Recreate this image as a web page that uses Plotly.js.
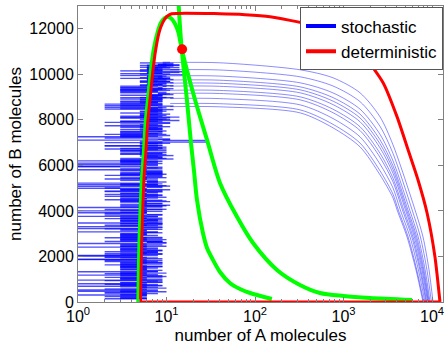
<!DOCTYPE html>
<html><head><meta charset="utf-8">
<script src="https://cdn.plot.ly/plotly-3.0.1.min.js"></script>
<style>html,body{margin:0;padding:0;background:#fff}#chart{width:445px;height:345px}</style>
</head><body><div id="chart"></div>
<script>
// ---- axis ticks ----
const xTickVals = [1, 10, 100, 1000, 10000];
const xTickText = ['10<sup>0</sup>', '10<sup>1</sup>', '10<sup>2</sup>', '10<sup>3</sup>', '10<sup>4</sup>'];
const yTickVals = [0, 2000, 4000, 6000, 8000, 10000, 12000];
const yTickText = ['0', '2000', '4000', '6000', '8000', '10000', '12000'];

// ---- deterministic trajectory (A, B) ----
const detA = [12300, 10800, 8790, 6950, 5360, 4030, 2800, 1660, 845, 418, 148, 77, 40.2, 11.43, 10.05, 9.06, 8.23, 7.55, 7.04, 6.59, 6.14, 5.82, 5.57, 5.24, 5.08];
const detB = [0, 1980, 3910, 5360, 6690, 8130, 9630, 10860, 11825, 12180, 12530, 12620, 12660, 12660, 12530, 12270, 11825, 11080, 10200, 9100, 7910, 6460, 5450, 2640, 0];
const detBaseA = [5.08, 12300];
const detBaseB = [0, 0];
const steadyA = [15.0];
const steadyB = [11100];

// ---- nullclines ----
const nullHumpA = [4.80, 4.95, 5.29, 5.53, 5.82, 6.26, 6.68, 7.17, 7.91, 8.66, 9.49, 10.26, 11.24, 12.48, 13.67, 14.85, 21.0, 28.7, 40.2, 62.6, 95, 177, 322, 542, 1000, 1990, 5940];
const nullHumpB = [0, 2640, 5450, 6460, 7910, 9100, 10200, 11080, 11825, 12270, 12460, 12530, 12460, 12220, 11825, 11110, 8880, 7120, 5230, 3740, 2590, 1410, 750, 396, 264, 176, 88];
const nullSteepA = [13.5, 14.03, 14.85, 17.0, 18.9, 20.5, 22.1, 25.8, 28.7, 33.5, 40.2, 52, 67.7, 88, 155];
const nullSteepB = [13500, 12400, 11110, 8880, 6990, 5715, 4480, 3030, 2374, 1850, 1319, 835, 571, 396, 130];

// ---- stochastic runs: approach phase ----
const run1A = [10260, 9250, 7910, 6427, 3623, 2584, 1536, 761, 322, 40, 11];
const run1B = [0, 1407, 2857, 4044, 6902, 8133, 9188, 9847, 10199, 10506, 10520];
const run2A = [9840, 8760, 7390, 5960, 3623, 2584, 1536, 761, 322, 40, 11];
const run2B = [0, 1407, 2857, 4044, 6524, 7715, 8801, 9487, 9891, 10190, 10200];
const run3A = [9490, 8360, 6980, 5590, 3623, 2584, 1536, 761, 322, 40, 11];
const run3B = [0, 1407, 2857, 4044, 6198, 7363, 8471, 9183, 9627, 9922, 9930];
const run4A = [9270, 8100, 6720, 5340, 3623, 2584, 1536, 761, 322, 40, 11];
const run4B = [0, 1407, 2857, 4044, 5983, 7126, 8251, 8977, 9451, 9741, 9750];
const run5A = [9100, 7910, 6520, 5170, 3623, 2584, 1536, 761, 322, 40, 11];
const run5B = [0, 1407, 2857, 4044, 5820, 6946, 8084, 8823, 9320, 9605, 9610];
const run6A = [8930, 7710, 6320, 5010, 3623, 2584, 1536, 761, 322, 40, 11];
const run6B = [0, 1407, 2857, 4044, 5653, 6770, 7917, 8669, 9188, 9473, 9480];
const run7A = [8710, 7470, 6100, 4790, 3623, 2584, 1536, 761, 322, 40, 11];
const run7B = [0, 1407, 2857, 4044, 5438, 6533, 7697, 8467, 9012, 9293, 9300];
const run8A = [8550, 7290, 5910, 4630, 3623, 2584, 1536, 761, 322, 40, 11];
const run8B = [0, 1407, 2857, 4044, 5275, 6352, 7530, 8313, 8880, 9157, 9160];
const run9A = [8310, 7020, 5640, 4380, 3623, 2584, 1536, 761, 322, 40, 11];
const run9B = [0, 1407, 2857, 4044, 5007, 6058, 7253, 8058, 8660, 8933, 8940];
const run10A = [8060, 6730, 5370, 4160, 3623, 2584, 1536, 761, 322, 40, 11];
const run10B = [0, 1407, 2857, 4044, 4735, 5763, 6981, 7803, 8440, 8709, 8715];
const run11A = [7910, 6590, 5220, 4030, 3623, 2584, 1536, 761, 322, 40, 11];
const run11B = [0, 1407, 2857, 4044, 4572, 5583, 6814, 7649, 8308, 8572, 8580];

// ---- stochastic runs: fluctuating phase (sampled A count, B count) ----
const jag1A = [11,9,14,6,9,6,10,8,5,12, 6,3,9,6,9,3,8,5,10,6, 2,9,6,3,8,11,5,6,3,9, 6,1,8,5,9,3,6,10,3,6, 8,2,5,9,3,6,6,3,9,5, 1,8,3,6,10,3,6,5,2,9, 3,6,8,3,5,9,3,2,6,5];
const jag1B = [10520,10410,10300,10170,10050,9920,9790,9650,9500,9370, 9230,9080,8930,8790,8640,8490,8350,8200,8040,7890, 7740,7590,7430,7280,7130,6970,6820,6660,6510,6350, 6200,6040,5890,5730,5580,5420,5270,5110,4950,4800, 4640,4490,4330,4170,4020,3860,3700,3550,3390,3230, 3080,2920,2760,2610,2450,2290,2140,1980,1820,1670, 1510,1350,1200,1040,880,730,570,410,260,100];
const jag2A = [9,12,8,6,16,9,5,10,6,3, 11,8,6,9,3,6,9,5,14,6, 3,8,10,2,6,5,9,3,6,12, 8,3,1,6,9,5,3,9,6,2, 8,3,11,5,6,3,6,9,1,5, 6,3,9,3,6,8,2,5,9,3, 6,3,10,6,1,5,8,3,6,3];
const jag2B = [10480,10360,10230,10110,9980,9850,9710,9570,9430,9300, 9150,9010,8860,8710,8570,8420,8270,8120,7970,7820, 7660,7510,7360,7200,7050,6890,6740,6590,6430,6280, 6120,5960,5810,5650,5500,5340,5190,5030,4870,4720, 4560,4410,4250,4090,3940,3780,3620,3470,3310,3150, 3000,2840,2680,2530,2370,2210,2060,1900,1740,1590, 1430,1270,1120,960,800,650,490,330,180,60];
const jag3A = [8,10,6,14,9,6,11,5,9,8, 6,12,3,9,6,10,5,8,3,9, 6,9,3,11,6,2,8,5,9,6, 3,9,6,3,10,5,8,1,6,9, 3,6,5,9,2,6,8,3,9,5, 6,3,9,6,3,8,5,1,6,3, 9,5,2,6,8,3,10,3,6,2];
const jag3B = [10440,10330,10200,10080,9950,9810,9680,9540,9400,9260, 9110,8970,8820,8680,8530,8380,8230,8080,7930,7770, 7620,7470,7310,7160,7000,6850,6690,6540,6390,6230, 6080,5920,5770,5610,5460,5300,5150,4990,4840,4680, 4530,4370,4210,4060,3900,3740,3590,3430,3270,3120, 2960,2800,2650,2490,2330,2180,2020,1860,1710,1550, 1390,1240,1080,920,770,610,450,300,140,30];
const jag4A = [14,6,9,5,11,8,6,10,9,3, 6,9,5,8,12,6,3,9,6,11, 5,8,3,9,30,6,9,6,5,10, 3,8,6,3,9,6,5,1,9,3, 6,10,3,6,5,9,2,6,8,3, 9,5,3,6,1,6,9,3,8,2, 5,6,3,9,3,6,1,8,5,3];
const jag4B = [10400,10270,10140,10010,9880,9750,9610,9470,9330,9190, 9040,8900,8750,8600,8450,8300,8160,8010,7850,7700, 7550,7390,7240,7090,7020,6980,6780,6620,6470,6310, 6160,6000,5850,5690,5540,5380,5220,5070,4910,4760, 4600,4440,4290,4130,3980,3820,3660,3510,3350,3190, 3040,2880,2720,2570,2410,2250,2100,1940,1780,1630, 1470,1310,1160,1000,840,690,530,370,220,80];
const jag5A = [9,5,11,6,3,9,6,12,8,3, 10,6,9,3,8,2,9,6,5,11, 6,3,9,6,1,8,5,10,3,6, 9,3,6,9,5,2,8,6,11,3, 6,3,9,5,1,6,9,3,6,2, 8,5,3,10,6,3,9,2,6,5, 3,8,1,6,3,9,3,6,2,5];
const jag5B = [10500,10390,10280,10150,10030,9900,9770,9630,9480,9350, 9210,9060,8910,8770,8620,8470,8330,8180,8020,7870, 7720,7570,7410,7260,7110,6950,6800,6640,6490,6330, 6180,6020,5870,5710,5560,5400,5250,5090,4930,4780, 4620,4470,4310,4150,4000,3840,3680,3530,3370,3210, 3060,2900,2740,2590,2430,2270,2120,1960,1800,1650, 1490,1330,1180,1020,860,710,550,390,240,80];
const jag6A = [12,8,5,9,6,3,11,6,9,3, 8,10,5,6,2,9,6,11,3,8, 5,9,3,6,6,9,2,10,5,8, 3,1,6,9,3,6,8,3,2,9, 5,6,3,10,6,1,8,3,9,5, 3,6,2,9,6,3,8,1,5,9, 3,6,3,9,2,6,5,1,6,3];
const jag6B = [10420,10310,10200,10070,9950,9820,9690,9550,9400,9270, 9130,8980,8830,8690,8540,8390,8250,8100,7940,7790, 7640,7490,7330,7180,7030,6870,6720,6560,6410,6250, 6100,5940,5790,5630,5480,5320,5170,5010,4850,4700, 4540,4390,4230,4070,3920,3760,3600,3450,3290,3130, 2980,2820,2660,2510,2350,2190,2040,1880,1720,1570, 1410,1250,1100,940,780,630,470,310,160,40];

const runs = [[run1A,run1B],[run2A,run2B],[run3A,run3B],[run4A,run4B],[run5A,run5B],[run6A,run6B],[run7A,run7B],[run8A,run8B],[run9A,run9B],[run10A,run10B],[run11A,run11B]];
const jags = [[jag1A,jag1B],[jag2A,jag2B],[jag3A,jag3B],[jag4A,jag4B],[jag5A,jag5B],[jag6A,jag6B]];

const BLUE = 'rgba(0,0,255,0.45)';
const BLUE_J = 'rgba(0,0,255,0.7)';
const GREEN = '#00ff00';
const RED = '#ff0000';
const GROUPS = 6;

const traces = [];
// each sample: A jumps while B stays nearly constant -> a horizontal stroke.
// strokes are spread over several traces so that overlapping strokes add up.
jags.forEach(function (r) {
  const a = r[0], b = r[1];
  for (let g = 0; g < GROUPS; g++) {
    const xs = [], ys = [];
    for (let i = g; i < a.length - 1; i += GROUPS) {
      xs.push(a[i], a[i + 1], null);
      ys.push(b[i], b[i], null);
    }
    traces.push({x: xs, y: ys, type: 'scatter', mode: 'lines', showlegend: false, hoverinfo: 'skip',
      connectgaps: false, line: {color: BLUE_J, width: 1.4}});
  }
});
runs.forEach(function (r) {
  traces.push({x: r[0], y: r[1], type: 'scatter', mode: 'lines', showlegend: false, hoverinfo: 'skip',
    line: {color: BLUE, width: 1, shape: 'spline', smoothing: 0.8}});
});
traces.push({x: nullHumpA, y: nullHumpB, type: 'scatter', mode: 'lines', showlegend: false,
  line: {color: GREEN, width: 4, shape: 'spline', smoothing: 0.8}});
traces.push({x: nullSteepA, y: nullSteepB, type: 'scatter', mode: 'lines', showlegend: false,
  line: {color: GREEN, width: 4, shape: 'spline', smoothing: 0.8}});
traces.push({x: detBaseA, y: detBaseB, type: 'scatter', mode: 'lines', showlegend: false,
  line: {color: RED, width: 3}});
traces.push({x: detA, y: detB, type: 'scatter', mode: 'lines', showlegend: false,
  line: {color: RED, width: 3, shape: 'spline', smoothing: 0.6}});
traces.push({x: steadyA, y: steadyB, type: 'scatter', mode: 'markers', showlegend: false,
  marker: {color: RED, size: 10}});
// legend entries
traces.push({x: [null], y: [null], type: 'scatter', mode: 'lines', name: 'stochastic', line: {color: '#0000ff', width: 4}});
traces.push({x: [null], y: [null], type: 'scatter', mode: 'lines', name: 'deterministic', line: {color: RED, width: 4}});

const AX = '#808080';
const layout = {
  width: 445, height: 345,
  margin: {l: 78, r: 2, t: 6, b: 43, pad: 0},
  paper_bgcolor: 'white', plot_bgcolor: 'white',
  font: {family: 'Arial, "Liberation Sans", sans-serif', size: 16, color: 'black'},
  showlegend: true,
  legend: {x: 1, xanchor: 'right', y: 0.995, yanchor: 'top', font: {size: 17},
    bordercolor: '#555555', borderwidth: 1, bgcolor: 'white', traceorder: 'normal'},
  xaxis: {type: 'log', range: [0, 4.124], tickmode: 'array', tickvals: xTickVals, ticktext: xTickText,
    ticks: 'inside', ticklen: 5, tickcolor: AX, showline: true, linecolor: AX, linewidth: 1,
    mirror: 'allticks', showgrid: false, zeroline: false, automargin: false,
    minor: {ticks: 'inside', ticklen: 3, tickcolor: AX, dtick: 'D1', showgrid: false},
    tickfont: {size: 16}, title: {text: 'number of A molecules', font: {size: 17}, standoff: 7}},
  yaxis: {range: [0, 13000], tickmode: 'array', tickvals: yTickVals, ticktext: yTickText,
    ticks: 'inside', ticklen: 5, tickcolor: AX, showline: true, linecolor: AX, linewidth: 1,
    mirror: 'allticks', showgrid: false, zeroline: false, automargin: false,
    tickfont: {size: 16}, title: {text: 'number of B molecules', font: {size: 17}, standoff: 3}}
};
Plotly.newPlot('chart', traces, layout, {displayModeBar: false, staticPlot: true});
</script></body></html>
